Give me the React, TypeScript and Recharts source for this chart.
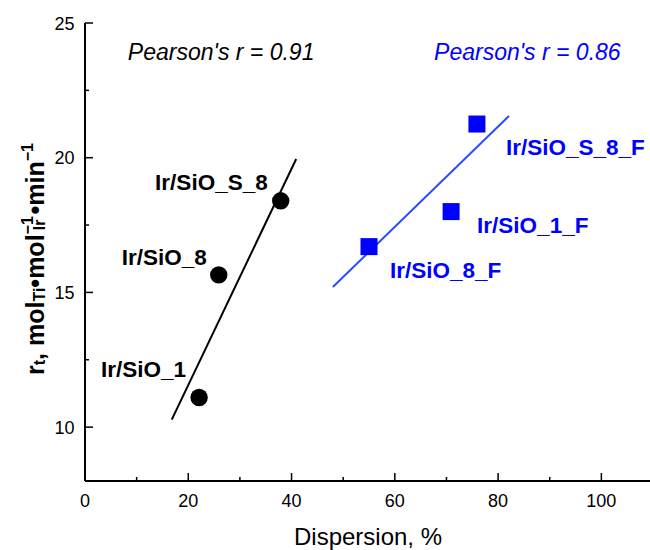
import { ScatterChart, Scatter, XAxis, YAxis, ReferenceLine } from "recharts";

// black series (Ir/SiO)
const blackNames = ["Ir/SiO_1", "Ir/SiO_8", "Ir/SiO_S_8"];
const blackDispersion = [22.1, 25.9, 37.9];
const blackRate = [11.1, 15.65, 18.4];

// blue series (fluorinated)
const blueNames = ["Ir/SiO_8_F", "Ir/SiO_1_F", "Ir/SiO_S_8_F"];
const blueDispersion = [55, 70.9, 75.9];
const blueRate = [16.7, 18.0, 21.25];

// fit lines (end points)
const blackFitX = [16.8, 40.9];
const blackFitY = [10.28, 19.95];
const blueFitX = [48, 82.1];
const blueFitY = [15.2, 21.55];

const pearsonText = ["Pearson's r = 0.91", "Pearson's r = 0.86"];
const pearsonX = [8.3, 67.6];
const pearsonY = [23.62, 23.62];
const pearsonColor = ["#000000", "#0000ff"];

const xTicks = [0, 10, 20, 30, 40, 50, 60, 70, 80, 90, 100, 110];
const xTickLabels = ["0", "20", "40", "60", "80", "100"];
const yTicks = [10, 12.5, 15, 17.5, 20, 22.5, 25];
const yTickLabels = ["10", "15", "20", "25"];

// label offsets from marker centre (px)
const blackLabelDx = [-13, -12, -13];
const blackLabelDy = [-20, -10, -11];
const blueLabelDx = [21, 26, 29];
const blueLabelDy = [31, 21, 31];

const FONT = "Arial, 'Liberation Sans', sans-serif";

const blackData = blackNames.map((name, i) => ({
  name,
  x: blackDispersion[i],
  y: blackRate[i],
  dx: blackLabelDx[i],
  dy: blackLabelDy[i],
}));
const blueData = blueNames.map((name, i) => ({
  name,
  x: blueDispersion[i],
  y: blueRate[i],
  dx: blueLabelDx[i],
  dy: blueLabelDy[i],
}));
const pearsonData = pearsonText.map((text, i) => ({
  text,
  x: pearsonX[i],
  y: pearsonY[i],
  color: pearsonColor[i],
}));

const CircleMark = (p: any) => (
  <g>
    <circle cx={p.cx} cy={p.cy} r={8.7} fill="#000" />
    <text
      x={p.cx + p.payload.dx}
      y={p.cy + p.payload.dy}
      textAnchor="end"
      fontFamily={FONT}
      fontWeight="bold"
      fontSize={22.5}
      fill="#000"
    >
      {p.payload.name}
    </text>
  </g>
);

const SquareMark = (p: any) => (
  <g>
    <rect x={p.cx - 8.5} y={p.cy - 8.5} width={17} height={17} fill="#0000ff" />
    <text
      x={p.cx + p.payload.dx}
      y={p.cy + p.payload.dy}
      textAnchor="start"
      fontFamily={FONT}
      fontWeight="bold"
      fontSize={22.5}
      fill="#0000ff"
    >
      {p.payload.name}
    </text>
  </g>
);

const PearsonMark = (p: any) => (
  <text
    x={p.cx}
    y={p.cy}
    fontFamily={FONT}
    fontStyle="italic"
    fontSize={23}
    fill={p.payload.color}
  >
    {p.payload.text}
  </text>
);

// inward ticks, long for labelled values, short otherwise
const XTick = (p: any) => {
  const v = p.payload.value;
  const major = xTickLabels.includes(String(v));
  return (
    <g>
      <line x1={p.x} x2={p.x} y1={p.y} y2={p.y - (major ? 8 : 4)} stroke="#000" strokeWidth={1.5} />
      {major && (
        <text x={p.x} y={p.y + 26} textAnchor="middle" fontFamily={FONT} fontSize={18} fill="#000">
          {v}
        </text>
      )}
    </g>
  );
};

const YTick = (p: any) => {
  const v = p.payload.value;
  const major = yTickLabels.includes(String(v));
  return (
    <g>
      <line x1={p.x} x2={p.x + (major ? 8 : 4)} y1={p.y} y2={p.y} stroke="#000" strokeWidth={1.5} />
      {major && (
        <text x={p.x - 10.5} y={p.y + 6.5} textAnchor="end" fontFamily={FONT} fontSize={18} fill="#000">
          {v}
        </text>
      )}
    </g>
  );
};

const YTitle = (props: any) => {
  const vb = props.viewBox;
  const cx = vb.x + 35;
  const cy = vb.y + vb.height / 2 + 7;
  return (
    <text
      x={cx}
      y={cy}
      transform={`rotate(-90, ${cx}, ${cy})`}
      textAnchor="middle"
      dominantBaseline="central"
      fontFamily={FONT}
      fontWeight="bold"
      fontSize={25}
      fill="#000"
    >
      r
      <tspan fontSize={16} baselineShift="-30%">t</tspan>
      <tspan>, mol</tspan>
      <tspan fontSize={16} baselineShift="-30%">Ti</tspan>
      <tspan>•mol</tspan>
      <tspan fontSize={16} baselineShift="45%">−1</tspan>
      <tspan fontSize={16} dx={-14} baselineShift="-30%">Ir</tspan>
      <tspan dx={5}>•min</tspan>
      <tspan fontSize={16} baselineShift="45%">−1</tspan>
    </text>
  );
};

const XTitle = (props: any) => {
  const vb = props.viewBox;
  return (
    <text
      x={vb.x + vb.width / 2 - 1}
      y={vb.y + 64}
      textAnchor="middle"
      fontFamily={FONT}
      fontSize={24}
      fill="#000"
    >
      Dispersion, %
    </text>
  );
};

export default function App() {
  return (
    <div style={{ position: "absolute", left: 0, top: 0, background: "#fff" }}>
      <ScatterChart
        width={650}
        height={550}
        margin={{ top: 23, right: -3, bottom: 0, left: 0 }}
      >
        <XAxis
          xAxisId="top"
          orientation="top"
          type="number"
          dataKey="x"
          domain={[0, 110]}
          height={0}
          tick={false}
          tickLine={false}
          axisLine={{ stroke: "#000", strokeWidth: 2 }}
        />
        <XAxis
          type="number"
          dataKey="x"
          domain={[0, 110]}
          ticks={xTicks}
          interval={0}
          height={69}
          tickSize={0}
          tickMargin={0}
          tick={XTick}
          tickLine={false}
          axisLine={{ stroke: "#000", strokeWidth: 2 }}
          label={{ content: XTitle }}
        />
        <YAxis
          type="number"
          dataKey="y"
          domain={[8, 25]}
          ticks={yTicks}
          interval={0}
          width={85}
          tickSize={0}
          tickMargin={0}
          tick={YTick}
          tickLine={false}
          axisLine={{ stroke: "#000", strokeWidth: 2 }}
          label={{ content: YTitle }}
        />
        <ReferenceLine
          segment={[
            { x: blackFitX[0], y: blackFitY[0] },
            { x: blackFitX[1], y: blackFitY[1] },
          ]}
          stroke="#000"
          strokeWidth={2}
        />
        <ReferenceLine
          segment={[
            { x: blueFitX[0], y: blueFitY[0] },
            { x: blueFitX[1], y: blueFitY[1] },
          ]}
          stroke="#2a4bff"
          strokeWidth={2}
        />
        <Scatter data={blackData} shape={CircleMark} isAnimationActive={false} />
        <Scatter data={blueData} shape={SquareMark} isAnimationActive={false} />
        <Scatter data={pearsonData} shape={PearsonMark} isAnimationActive={false} />
      </ScatterChart>
    </div>
  );
}
